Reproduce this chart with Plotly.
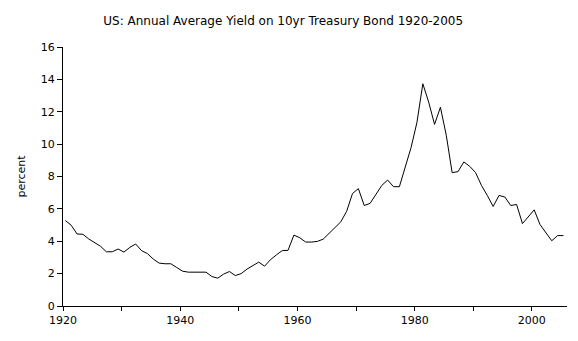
import plotly.graph_objects as go

years = list(range(1920, 2006))
yield_pct = [
    5.28, 4.99, 4.45, 4.43, 4.14, 3.91, 3.69, 3.35, 3.35, 3.52,
    3.33, 3.62, 3.83, 3.42, 3.24, 2.90, 2.65, 2.61, 2.61, 2.38,
    2.15, 2.09, 2.09, 2.09, 2.09, 1.82, 1.72, 1.97, 2.13, 1.88,
    2.00, 2.28, 2.50, 2.71, 2.46, 2.86, 3.15, 3.42, 3.44, 4.38,
    4.22, 3.95, 3.95, 3.99, 4.13, 4.48, 4.88, 5.20, 5.85, 6.95,
    7.25, 6.21, 6.34, 6.91, 7.45, 7.78, 7.37, 7.37, 8.55, 9.80,
    11.35, 13.73, 12.59, 11.22, 12.28, 10.55, 8.24, 8.30, 8.90, 8.63,
    8.24, 7.45, 6.83, 6.15, 6.83, 6.73, 6.21, 6.27, 5.09, 5.55,
    5.94, 5.03, 4.52, 4.03, 4.35, 4.35,
]
x_tickvals = [1920, 1930, 1940, 1950, 1960, 1970, 1980, 1990, 2000]
x_ticktext = ["1920", "", "1940", "", "1960", "", "1980", "", "2000"]
y_tickvals = [0, 2, 4, 6, 8, 10, 12, 14, 16]

# points sit slightly right of the year tick in the original
x_pos = [y + 0.4 for y in years]

fig = go.Figure(
    go.Scatter(x=x_pos, y=yield_pct, mode="lines",
               line=dict(color="black", width=1), hoverinfo="skip")
)

font = dict(family="DejaVu Sans, Verdana, sans-serif", size=11, color="#000000")

fig.update_layout(
    width=578, height=341,
    margin=dict(l=63, r=11, t=47, b=35),
    paper_bgcolor="white", plot_bgcolor="white",
    showlegend=False,
    font=font,
    title=dict(text="US: Annual Average Yield on 10yr Treasury Bond 1920-2005",
               x=0.49, xanchor="center", y=0.94, yanchor="middle",
               font=dict(family="DejaVu Sans, Verdana, sans-serif", size=12, color="#000000")),
    xaxis=dict(range=[1920, 2006], tickvals=x_tickvals, ticktext=x_ticktext,
               showgrid=False, zeroline=False, showline=True, linecolor="black",
               linewidth=1, ticks="outside", ticklen=4, tickcolor="black",
               tickfont=font),
    yaxis=dict(range=[0, 16], tickvals=y_tickvals,
               showgrid=False, zeroline=False, showline=True, linecolor="black",
               linewidth=1, ticks="outside", ticklen=5, tickcolor="black",
               tickfont=font,
               title=dict(text="percent", font=font, standoff=12)),
)

fig.write_html("out.html")
